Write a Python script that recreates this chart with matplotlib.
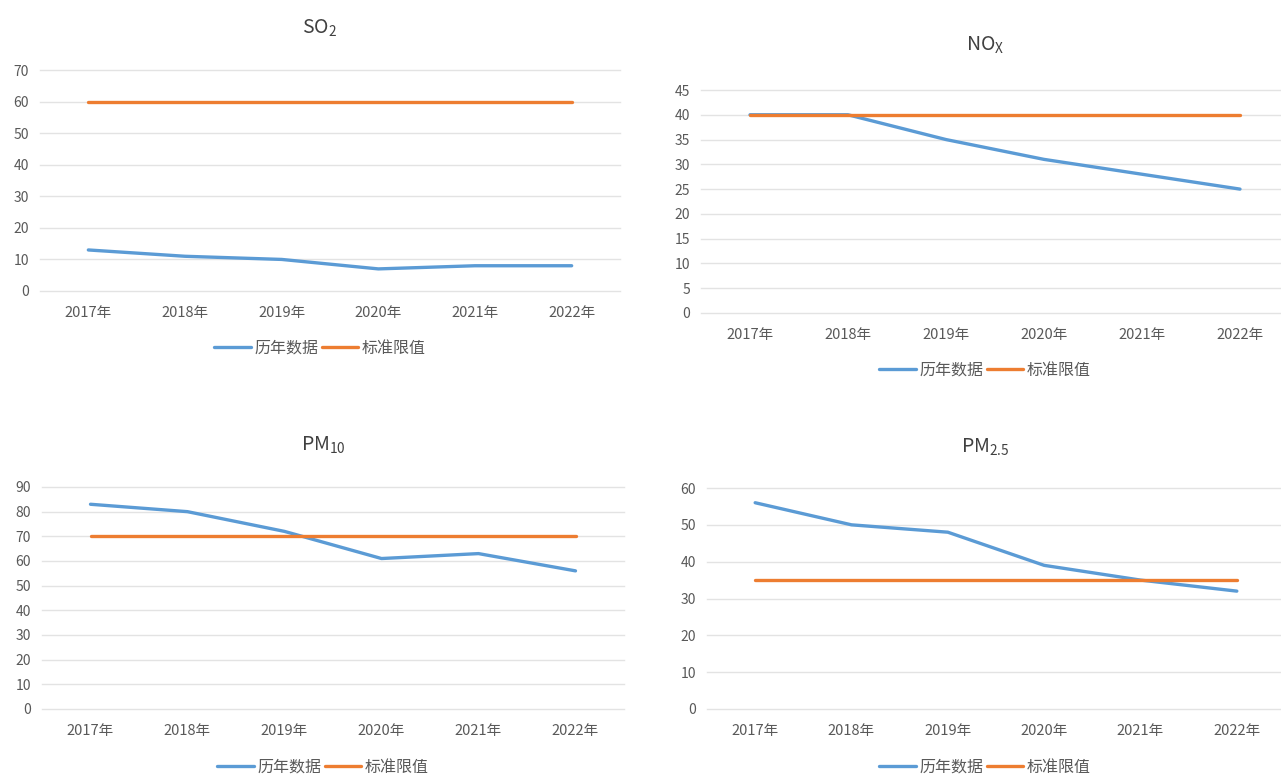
import matplotlib
matplotlib.use('Agg')
import matplotlib.pyplot as plt

plt.rcParams['font.family'] = ['Noto Sans CJK SC', 'DejaVu Sans']
plt.rcParams['mathtext.fontset'] = 'custom'
plt.rcParams['mathtext.rm'] = 'Noto Sans'
plt.rcParams['mathtext.default'] = 'regular'

years = ['2017年', '2018年', '2019年', '2020年', '2021年', '2022年']

so2 = [13, 11, 10, 7, 8, 8]
so2_std = [60, 60, 60, 60, 60, 60]
nox = [40, 40, 35, 31, 28, 25]
nox_std = [40, 40, 40, 40, 40, 40]
pm10 = [83, 80, 72, 61, 63, 56]
pm10_std = [70, 70, 70, 70, 70, 70]
pm25 = [56, 50, 48, 39, 35, 32]
pm25_std = [35, 35, 35, 35, 35, 35]

BLUE = '#5B9BD5'
ORANGE = '#ED7D31'
GRID = '#E3E3E3'
TXT = '#595959'

W, H = 1281, 775
fig = plt.figure(figsize=(W / 100, H / 100), dpi=100)
fig.patch.set_facecolor('white')


def px_axes(x0, x1, ytop, ybot):
    return fig.add_axes([x0 / W, 1 - ybot / H, (x1 - x0) / W, (ybot - ytop) / H])


def panel(x0, x1, ytop, ybot, ymax, step, data, std, title, tpos, lpos):
    ax = px_axes(x0, x1, ytop, ybot)
    x = range(len(years))
    ax.plot(x, data, color=BLUE, lw=2.4, solid_capstyle='round', label='历年数据', zorder=3)
    ax.plot(x, std, color=ORANGE, lw=2.4, solid_capstyle='round', label='标准限值', zorder=4)
    ax.set_xlim(-0.5, len(years) - 0.5)
    ax.set_ylim(0, ymax)
    ax.set_yticks(range(0, ymax + 1, step))
    ax.set_xticks(list(x))
    ax.set_xticklabels(years)
    ax.grid(axis='y', color=GRID, lw=1)
    for g in ax.get_ygridlines():
        g.set_clip_on(False)
    ax.set_axisbelow(True)
    for s in ax.spines.values():
        s.set_visible(False)
    ax.tick_params(length=0, colors=TXT, labelsize=10)
    ax.tick_params(axis='x', pad=11, labelsize=10.5)
    ax.tick_params(axis='y', pad=8)
    fig.text(tpos[0] / W, 1 - tpos[1] / H, title, ha='center', va='center',
             fontsize=14, color='#404040')
    ax.legend(loc='center', bbox_to_anchor=(lpos[0] / W, 1 - lpos[1] / H),
              bbox_transform=fig.transFigure, ncol=2, frameon=False,
              handlelength=2.3, handletextpad=0.2, columnspacing=0.2,
              fontsize=11.5, labelcolor=TXT)
    return ax


panel(40, 620, 70, 291, 70, 10, so2, so2_std, r'SO$_2$', (320, 28), (320, 348))
panel(701, 1289, 90, 313, 45, 5, nox, nox_std, r'NO$_X$', (985, 45), (985, 370))
panel(42, 624, 487, 709, 90, 10, pm10, pm10_std, r'PM$_{10}$', (323, 445), (323, 767))
panel(707, 1285, 488, 709, 60, 10, pm25, pm25_std, r'PM$_{2.5}$', (985, 447), (985, 767))

fig.savefig('out.png', dpi=100, facecolor='white')
